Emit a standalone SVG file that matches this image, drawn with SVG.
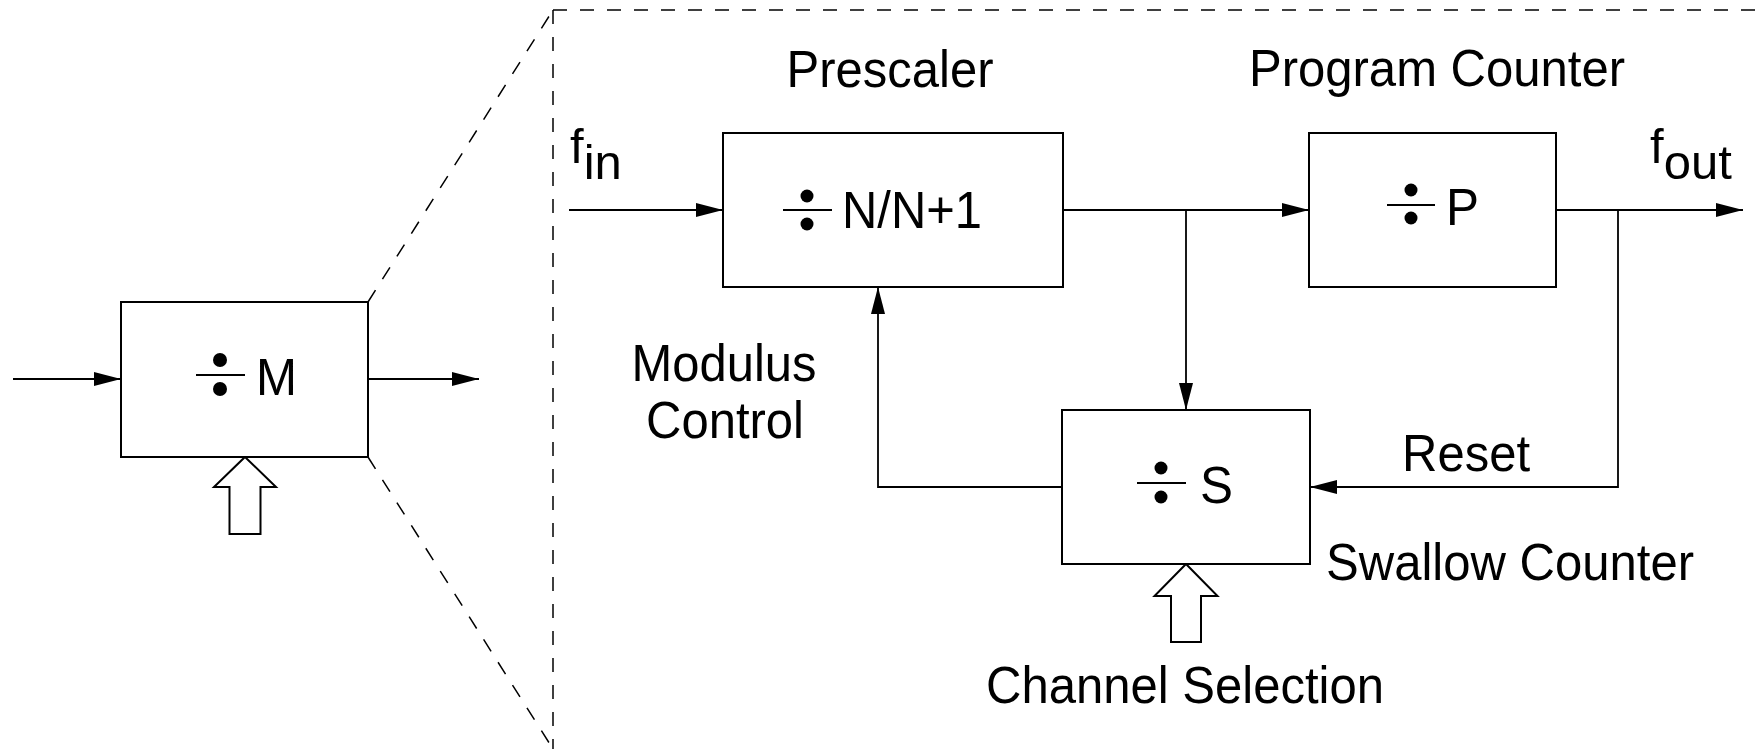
<svg xmlns="http://www.w3.org/2000/svg" width="1756" height="749" viewBox="0 0 1756 749">
<style>
.box{fill:#fff;stroke:#000;stroke-width:2}
.ln{fill:none;stroke:#000;stroke-width:1.8}
.dash{fill:none;stroke:#000;stroke-width:1.5;stroke-dasharray:14 13}
.hollow{fill:#fff;stroke:#000;stroke-width:2;stroke-linejoin:miter}
.t{font-family:"Liberation Sans",Arial,Helvetica,sans-serif;font-size:51.5px;fill:#000}
.s{font-size:49px}
.m{text-anchor:middle}
.bar{stroke:#000;stroke-width:2}
.dot{fill:#000}
</style>
<defs>
<marker id="ah" markerUnits="userSpaceOnUse" markerWidth="28" markerHeight="14" refX="27" refY="7" orient="auto" viewBox="0 0 28 14">
<path d="M0,0 L27,7 L0,14 z" fill="#000"/>
</marker>
</defs>
<rect width="1756" height="749" fill="#fff"/>
<g id="zoom-outline">
<line class="dash" x1="368" y1="302" x2="553" y2="10"/>
<line class="dash" x1="368" y1="457" x2="553" y2="749"/>
<line class="dash" x1="553" y1="10" x2="1756" y2="10"/>
<line class="dash" x1="553" y1="10" x2="553" y2="749"/>
</g>
<g id="connectors">
<line class="ln" x1="13" y1="379" x2="121" y2="379" marker-end="url(#ah)"/>
<line class="ln" x1="368" y1="379" x2="479" y2="379" marker-end="url(#ah)"/>
<line class="ln" x1="569" y1="210" x2="723" y2="210" marker-end="url(#ah)"/>
<line class="ln" x1="1063" y1="210" x2="1309" y2="210" marker-end="url(#ah)"/>
<line class="ln" x1="1186" y1="210" x2="1186" y2="410" marker-end="url(#ah)"/>
<line class="ln" x1="1556" y1="210" x2="1743" y2="210" marker-end="url(#ah)"/>
<polyline class="ln" points="1618,210 1618,487 1310,487" marker-end="url(#ah)"/>
<polyline class="ln" points="1062,487 878,487 878,287" marker-end="url(#ah)"/>
<polygon class="hollow" points="245,457 276,487 260.5,487 260.5,534 229.5,534 229.5,487 214,487"/>
<polygon class="hollow" points="1186,564 1217.5,596 1201,596 1201,642 1171,642 1171,596 1154.5,596"/>
</g>
<g id="node-m">
<rect class="box" x="121" y="302" width="247" height="155"/>
<line class="bar" x1="196" y1="375" x2="245" y2="375"/>
<circle class="dot" cx="220" cy="360" r="7"/>
<circle class="dot" cx="220" cy="389" r="7"/>
<text class="t" x="256" y="395" textLength="41" lengthAdjust="spacingAndGlyphs">M</text>
</g>
<g id="node-prescaler">
<rect class="box" x="723" y="133" width="340" height="154"/>
<line class="bar" x1="783" y1="210" x2="832" y2="210"/>
<circle class="dot" cx="807" cy="196" r="6.5"/>
<circle class="dot" cx="807" cy="224" r="6.5"/>
<text class="t" x="842" y="228" textLength="140" lengthAdjust="spacingAndGlyphs">N/N+1</text>
<text class="t m" x="890" y="87" textLength="207" lengthAdjust="spacingAndGlyphs">Prescaler</text>
</g>
<g id="node-program-counter">
<rect class="box" x="1309" y="133" width="247" height="154"/>
<line class="bar" x1="1387" y1="205" x2="1435" y2="205"/>
<circle class="dot" cx="1411" cy="190" r="6.5"/>
<circle class="dot" cx="1411" cy="218" r="6.5"/>
<text class="t" x="1446" y="225" textLength="33" lengthAdjust="spacingAndGlyphs">P</text>
<text class="t m" x="1437" y="86" textLength="376" lengthAdjust="spacingAndGlyphs">Program Counter</text>
</g>
<g id="node-swallow-counter">
<rect class="box" x="1062" y="410" width="248" height="154"/>
<line class="bar" x1="1137" y1="483" x2="1186" y2="483"/>
<circle class="dot" cx="1161" cy="468" r="6.5"/>
<circle class="dot" cx="1161" cy="497" r="6.5"/>
<text class="t" x="1200" y="503" textLength="33" lengthAdjust="spacingAndGlyphs">S</text>
<text class="t m" x="1510" y="580" textLength="368" lengthAdjust="spacingAndGlyphs">Swallow Counter</text>
</g>
<g id="labels">
<text class="t s" x="570" y="163">f<tspan dy="16">in</tspan></text>
<text class="t s" x="1650" y="163">f<tspan dy="16">out</tspan></text>
<text class="t m" x="724" y="381" textLength="185" lengthAdjust="spacingAndGlyphs">Modulus</text>
<text class="t m" x="725" y="438" textLength="158" lengthAdjust="spacingAndGlyphs">Control</text>
<text class="t m" x="1466" y="471" textLength="128" lengthAdjust="spacingAndGlyphs">Reset</text>
<text class="t m" x="1185" y="703" textLength="398" lengthAdjust="spacingAndGlyphs">Channel Selection</text>
</g>
</svg>
